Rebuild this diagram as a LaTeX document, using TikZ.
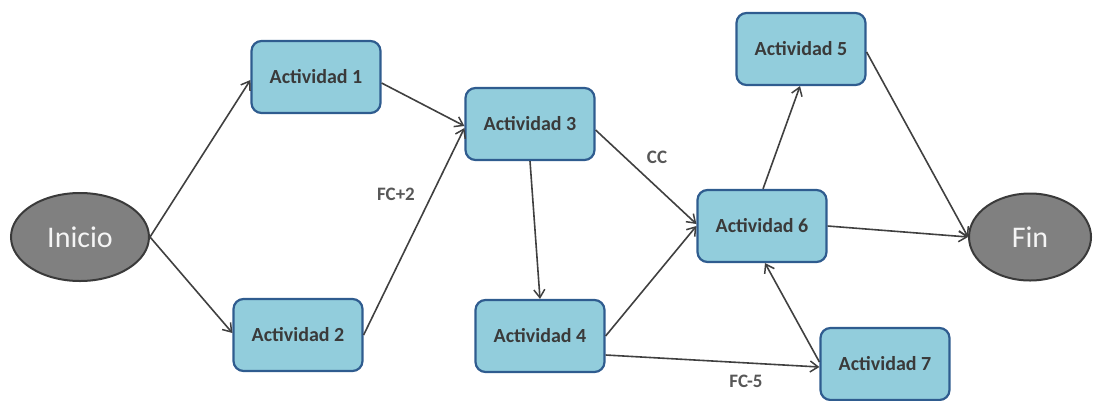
\documentclass[tikz,border=0pt]{standalone}
\usepackage{fontspec}
\setmainfont{Carlito}
\usetikzlibrary{shapes.geometric,arrows.meta,calc}
\definecolor{boxfill}{HTML}{92CDDC}
\definecolor{boxline}{HTML}{2F5C8F}
\definecolor{ellfill}{HTML}{808080}
\definecolor{ellline}{HTML}{3A3A3A}
\definecolor{txt}{HTML}{3A3A3A}
\definecolor{arr}{HTML}{404040}
\tikzset{
  act/.style={draw=boxline, fill=boxfill, line width=2.2pt, rounded corners=10pt,
    minimum width=129pt, minimum height=72pt, inner sep=0pt,
    font=\fontsize{20}{22}\selectfont\bfseries, text=txt},
  term/.style={ellipse, draw=ellline, fill=ellfill, line width=2pt, inner sep=0pt,
    font=\fontsize{30}{32}\selectfont, text=white!92!gray},
  conn/.style={draw=arr, line width=1.6pt, -{Straight Barb[length=8pt,width=11pt,line width=1.5pt]}},
  lbl/.style={font=\fontsize{19}{21}\selectfont\bfseries, text=txt!85!white}
}
\begin{document}
\begin{tikzpicture}[x=1pt,y=-1pt]
\useasboundingbox (0,0) rectangle (1099,400);
\node[term, minimum width=138pt, minimum height=88pt] (ini) at (80,237) {Inicio};
\node[term, minimum width=122pt, minimum height=87pt] (fin) at (1030,237) {Fin};
\node[act] (a1) at (316,77) {Actividad 1};
\node[act] (a2) at (298,335) {Actividad 2};
\node[act] (a3) at (530,124) {Actividad 3};
\node[act] (a4) at (540,336) {Actividad 4};
\node[act] (a5) at (801,49) {Actividad 5};
\node[act] (a6) at (762,226) {Actividad 6};
\node[act] (a7) at (885,364) {Actividad 7};

\draw[conn] (ini.east) -- ($(a1.west)+(0,3)$);
\draw[conn] (ini.east) -- ($(a2.west)+(0,-2)$);
\draw[conn] ($(a1.east)+(0,6)$) -- ($(a3.west)+(0,2)$);
\draw[conn] (a2.east) -- ($(a3.west)+(0,4)$);
\draw[conn] (a3.south) -- (a4.north);
\draw[conn] ($(a3.east)+(0,6)$) -- ($(a6.west)+(0,-2)$);
\draw[conn] (a4.east) -- (a6.west);
\draw[conn] ($(a4.east)+(0,19)$) -- ($(a7.west)+(0,3)$);
\draw[conn] ($(a6.north)+(1,0)$) -- ($(a5.south)+(-1,0)$);
\draw[conn] (a6.east) -- (fin.west);
\draw[conn] ($(a5.east)+(0,3)$) -- (fin.west);
\draw[conn] ($(a7.west)+(0,-2)$) -- ($(a6.south)+(3,0)$);

\node[lbl] (l1) at (396,194) {FC+2};
\node[lbl] (l2) at (657,157) {CC};
\node[lbl] (l3) at (746,381) {FC-5};
\end{tikzpicture}
\end{document}
